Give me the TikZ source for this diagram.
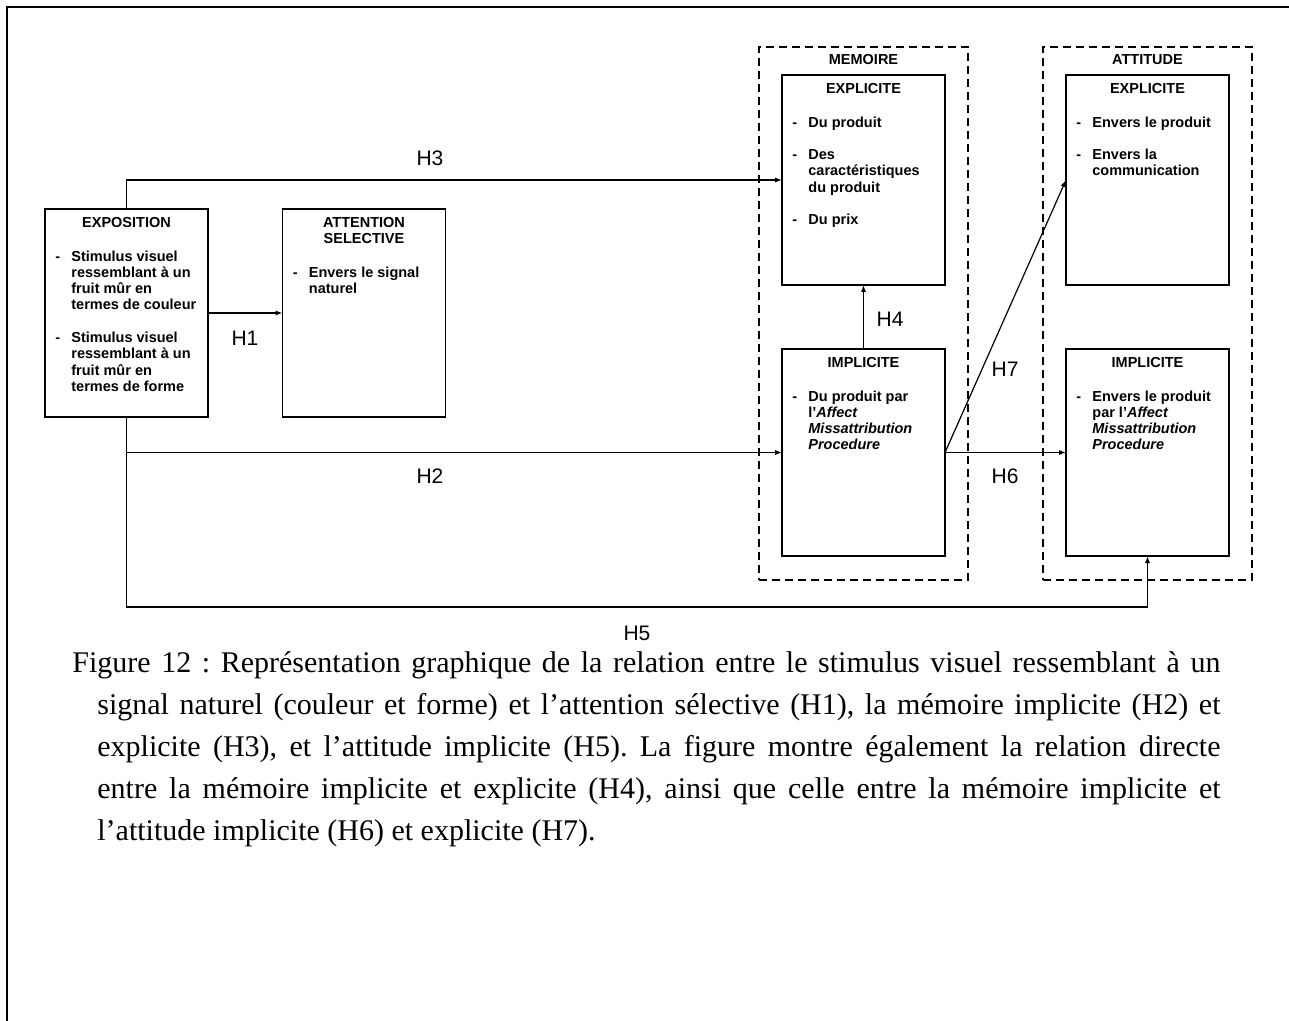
\documentclass[tikz,border=0pt]{standalone}
\usepackage{fontspec}
\setmainfont{Liberation Serif}
\newfontfamily\arialfam{Liberation Sans}
\usetikzlibrary{arrows.meta,positioning}
\newcommand{\dgmfont}{\arialfam\bfseries\fontsize{7.25}{8.15}\selectfont}
\newcommand{\hypfont}{\arialfam\fontsize{10.5}{12}\selectfont}

\begin{document}
\begin{tikzpicture}[x=0.5pt,y=-0.5pt,
  stage/.style={draw,line width=0.8pt,minimum width=81.5pt,inner sep=0pt,outer sep=0pt},
  group/.style={draw,line width=1.1pt,dash pattern=on 4pt off 2.5pt,minimum width=104.5pt,minimum height=266.5pt,inner sep=0pt},
  head/.style={inner sep=0pt,font=\dgmfont,align=center},
  items/.style={inner sep=0pt,font=\dgmfont,anchor=north west},
  hyp/.style={inner sep=0pt,font=\hypfont},
  link/.style={line width=0.6pt,-{Latex[length=3.5pt,width=2.6pt]}}]
\useasboundingbox (0,0) rectangle (1289,1021);
\draw[line width=1.2pt] (7,1021) -- (7,7) -- (1289,7);

% dashed groups
\node[group] (mem) at (863.5,313.5) {};
\node[group] (att) at (1147.5,313.5) {};
\node[head,below=4pt of mem.north] (mem-h) {MEMOIRE};
\node[head,below=4pt of att.north] (att-h) {ATTITUDE};

% boxes
\node[stage,minimum height=104pt] (expo) at (126.5,313) {};
\node[stage,minimum height=104pt] (attn) at (364,313) {};
\node[stage,minimum height=105pt] (mexp) at (863.5,180) {};
\node[stage,minimum height=103.5pt] (mimp) at (863.5,452.5) {};
\node[stage,minimum height=105pt] (aexp) at (1147.5,180) {};
\node[stage,minimum height=103.5pt] (aimp) at (1147.5,452.5) {};

\node[head,below=4pt of expo.north] (expo-h) {EXPOSITION};
\node[head,below=4pt of attn.north] (attn-h) {ATTENTION\\SELECTIVE};
\node[head,below=4pt of mexp.north] (mexp-h) {EXPLICITE};
\node[head,below=4pt of mimp.north] (mimp-h) {IMPLICITE};
\node[head,below=4pt of aexp.north] (aexp-h) {EXPLICITE};
\node[head,below=4pt of aimp.north] (aimp-h) {IMPLICITE};

\node[items] (expo-l) at ([xshift=5pt,yshift=-10.6pt]expo.west |- expo-h.south) {%
\begin{tabular}{@{}p{8pt}@{}l@{}}
-&Stimulus visuel\\
&ressemblant à un\\
&fruit mûr en\\
&termes de couleur\\[8.15pt]
-&Stimulus visuel\\
&ressemblant à un\\
&fruit mûr en\\
&termes de forme
\end{tabular}};
\node[items] (attn-l) at ([xshift=5pt,yshift=-10.6pt]attn.west |- attn-h.south) {%
\begin{tabular}{@{}p{8pt}@{}l@{}}
-&Envers le signal\\
&naturel
\end{tabular}};
\node[items] (mexp-l) at ([xshift=5pt,yshift=-10.6pt]mexp.west |- mexp-h.south) {%
\begin{tabular}{@{}p{8pt}@{}l@{}}
-&Du produit\\[8.15pt]
-&Des\\
&caractéristiques\\
&du produit\\[8.15pt]
-&Du prix
\end{tabular}};
\node[items] (mimp-l) at ([xshift=5pt,yshift=-10.6pt]mimp.west |- mimp-h.south) {%
\begin{tabular}{@{}p{8pt}@{}l@{}}
-&Du produit par\\
&l’\textit{Affect}\\
&\textit{Missattribution}\\
&\textit{Procedure}
\end{tabular}};
\node[items] (aexp-l) at ([xshift=5pt,yshift=-10.6pt]aexp.west |- aexp-h.south) {%
\begin{tabular}{@{}p{8pt}@{}l@{}}
-&Envers le produit\\[8.15pt]
-&Envers la\\
&communication
\end{tabular}};
\node[items] (aimp-l) at ([xshift=5pt,yshift=-10.6pt]aimp.west |- aimp-h.south) {%
\begin{tabular}{@{}p{8pt}@{}l@{}}
-&Envers le produit\\
&par l’\textit{Affect}\\
&\textit{Missattribution}\\
&\textit{Procedure}
\end{tabular}};

% hypotheses
\coordinate (low) at (0,607);
\draw[link] (expo.east) -- (attn.west);
\draw[link] (expo.north) |- (mexp.west);
\draw[link] (expo.south) |- (mimp.west);
\draw[link] (expo.south) |- (low -| aimp.south) -- (aimp.south);
\draw[link] (mimp.north) -- (mexp.south);
\draw[link] (mimp.east) -- (aimp.west);
\draw[link] (mimp.east) -- (aexp.west);

\node[hyp] (h1) at (245,338) {H1};
\node[hyp] (h2) at (430,476) {H2};
\node[hyp] (h3) at (430,158) {H3};
\node[hyp] (h4) at (890,319) {H4};
\node[hyp] (h5) at (637,633) {H5};
\node[hyp] (h6) at (1005,476) {H6};
\node[hyp] (h7) at (1005,369) {H7};

% caption
\node[anchor=north west,inner sep=0pt,text width=574pt,align=justify,
      font=\fontsize{15}{21}\selectfont] (cap) at (72,651) {\frenchspacing\leftskip=12.5pt\noindent\hspace*{-12.5pt}%
Figure 12 : Représentation graphique de la relation entre le stimulus visuel ressemblant à un\linebreak
signal naturel (couleur et forme) et l’attention sélective (H1), la mémoire implicite (H2) et\linebreak
explicite (H3), et l’attitude implicite (H5). La figure montre également la relation directe\linebreak
entre la mémoire implicite et explicite (H4), ainsi que celle entre la mémoire implicite et\linebreak
l’attitude implicite (H6) et explicite (H7).\par};
\end{tikzpicture}
\end{document}
